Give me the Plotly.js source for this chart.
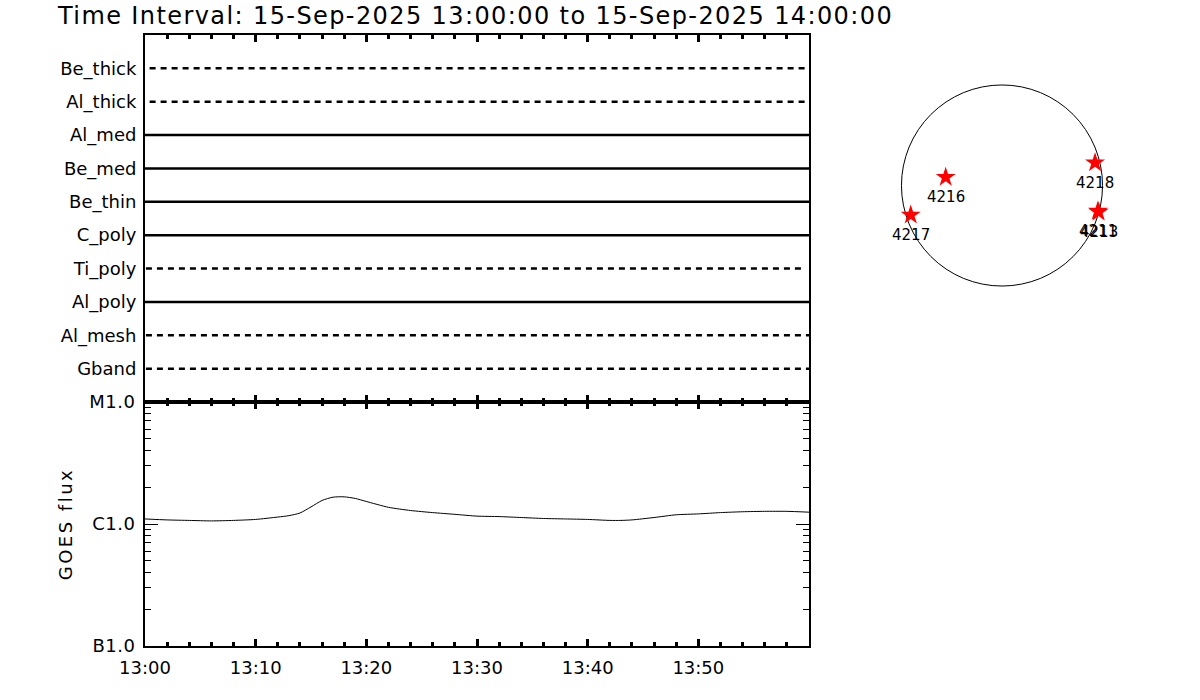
<!DOCTYPE html>
<html>
<head>
<meta charset="utf-8">
<script src="https://cdn.plot.ly/plotly-3.0.1.min.js"></script>
<style>
html,body{margin:0;padding:0;background:#fff;}
#chart{width:1200px;height:700px;}
.gtitle{letter-spacing:1.4px;}
.ytitle{letter-spacing:2.5px;}
.ytick text{letter-spacing:0.5px;}
</style>
</head>
<body>
<div id="chart"></div>
<script>
// ---------------- data ----------------
const day = '2025-09-15';
const titleText = 'Time Interval: 15-Sep-2025 13:00:00 to 15-Sep-2025 14:00:00';

// filters, top to bottom
const filters = ['Be_thick','Al_thick','Al_med','Be_med','Be_thin','C_poly','Ti_poly','Al_poly','Al_mesh','Gband'];
const filterStart = ['13:00:25','13:00:25','13:00:00','13:00:00','13:00:00','13:00:00','13:00:05','13:00:00','13:00:05','13:00:05'];
const filterEnd   = ['14:00:00','14:00:00','14:00:00','14:00:00','14:00:00','14:00:00','13:59:38','14:00:00','14:00:00','14:00:00'];
const filterDashed = [true,true,false,false,false,false,true,false,true,true];

// GOES flux (W/m^2)
const goesTime = ['13:00','13:02','13:04','13:06','13:08','13:10','13:12','13:13','13:14','13:15','13:16','13:17','13:18','13:19','13:20','13:22','13:24','13:26','13:28','13:30','13:32','13:34','13:36','13:38','13:40','13:42','13:43','13:44','13:46','13:48','13:50','13:52','13:54','13:56','13:58','14:00'];
const goesFlux = [1.10e-6,1.08e-6,1.07e-6,1.06e-6,1.07e-6,1.09e-6,1.14e-6,1.17e-6,1.23e-6,1.38e-6,1.56e-6,1.66e-6,1.67e-6,1.62e-6,1.53e-6,1.37e-6,1.29e-6,1.24e-6,1.20e-6,1.16e-6,1.15e-6,1.13e-6,1.11e-6,1.10e-6,1.09e-6,1.07e-6,1.07e-6,1.08e-6,1.13e-6,1.19e-6,1.21e-6,1.24e-6,1.26e-6,1.27e-6,1.27e-6,1.25e-6];

const goesTickVals = [1e-7,1e-6,1e-5];
const goesTickText = ['B1.0','C1.0','M1.0'];
const timeTickVals = ['13:00','13:10','13:20','13:30','13:40','13:50'];

// active regions on the disk (arcsec)
const regionNames = ['4218','4216','4217','4211','4213'];
const regionX = [884,-535,-867,911,918];
const regionY = [217,78,-280,-243,-251];
const solarRadius = 955;

// ---------------- styles ----------------
const FONT = 'DejaVu Sans, sans-serif';
const t = s => day + ' ' + (s.length === 5 ? s + ':00' : s);

const traces = [];
const nF = filters.length;
filters.forEach((f, i) => {
  const yv = nF - i;
  traces.push({
    type: 'scatter', mode: 'lines', xaxis: 'x2', yaxis: 'y2',
    x: [t(filterStart[i]), t(filterEnd[i])], y: [yv, yv],
    line: {color: '#000', width: 2.5, dash: filterDashed[i] ? '6px,5px' : 'solid'},
    hoverinfo: 'skip', name: f
  });
});

traces.push({
  type: 'scatter', mode: 'lines', xaxis: 'x', yaxis: 'y',
  x: goesTime.map(t), y: goesFlux,
  line: {color: '#000', width: 1, shape: 'spline', smoothing: 0.6},
  name: 'GOES'
});

traces.push({
  type: 'scatter', mode: 'markers', xaxis: 'x3', yaxis: 'y3',
  x: regionX, y: regionY,
  marker: {symbol: 'star', size: 15, color: '#ff0000', line: {width: 0}},
  name: 'regions'
});

const minorLog = [];
[1e-7, 1e-6].forEach(d => { for (let k = 2; k <= 9; k++) minorLog.push(k * d); });

const W = 1200, H = 700;
const xDom = [145 / W, 809 / W];
const yBot = [1 - 646 / H, 1 - 402 / H];
const yTop = [1 - 402 / H, 1 - 35 / H];

const timeAxisCommon = {
  type: 'date', domain: xDom,
  range: [t('13:00'), t('14:00')],
  tickmode: 'array', tickvals: timeTickVals.map(t),
  ticks: 'inside', ticklen: 7, tickwidth: 3, tickcolor: '#000',
  minor: {tickmode: 'linear', tick0: t('13:00'), dtick: 120000, ticks: 'inside', ticklen: 4, tickwidth: 3, tickcolor: '#000', showgrid: false},
  showline: true, linewidth: 2, linecolor: '#000', mirror: 'ticks',
  showgrid: false, zeroline: false,
  tickformat: '%H:%M',
  tickfont: {family: FONT, size: 18, color: '#000'}
};

const annotations = regionNames.map((n, i) => ({
  xref: 'x3', yref: 'y3', x: regionX[i], y: regionY[i],
  text: n, showarrow: false, yshift: -20, xshift: 0,
  font: {family: FONT, size: 15, color: '#000'}
}));

const layout = {
  width: W, height: H,
  margin: {l: 0, r: 0, t: 0, b: 0},
  paper_bgcolor: '#fff', plot_bgcolor: '#fff',
  showlegend: false,
  title: {
    text: titleText, x: 58 / W, xanchor: 'left', xref: 'paper',
    y: 1 - 16 / H, yanchor: 'middle', yref: 'paper',
    font: {family: FONT, size: 24, color: '#000'}
  },
  xaxis: Object.assign({}, timeAxisCommon, {anchor: 'y', ticklabelstandoff: 4}),
  xaxis2: Object.assign({}, timeAxisCommon, {anchor: 'y2', matches: 'x', showticklabels: false}),
  yaxis: {
    domain: yBot, anchor: 'x', type: 'log', range: [-7, -5],
    tickmode: 'array', tickvals: goesTickVals, ticktext: goesTickText,
    ticks: 'inside', ticklen: 13, tickwidth: 1, tickcolor: '#000',
    minor: {tickmode: 'array', tickvals: minorLog, ticks: 'inside', ticklen: 6, tickwidth: 1, tickcolor: '#000', showgrid: false},
    showline: true, linewidth: 2, linecolor: '#000', mirror: 'ticks',
    showgrid: false, zeroline: false, ticklabelstandoff: 4,
    tickfont: {family: FONT, size: 18, color: '#000'},
    title: {text: 'GOES flux', standoff: 12, font: {family: FONT, size: 18, color: '#000'}}
  },
  yaxis2: {
    domain: yTop, anchor: 'x2', range: [0, 11],
    tickmode: 'array', tickvals: filters.map((f, i) => nF - i), ticktext: filters,
    ticks: '', showline: true, linewidth: 2, linecolor: '#000', mirror: true,
    showgrid: false, zeroline: false, ticklabelstandoff: 3,
    tickfont: {family: FONT, size: 18, color: '#000'}
  },
  xaxis3: {domain: [880 / W, 1124 / W], anchor: 'y3', range: [-1159, 1159], visible: false},
  yaxis3: {domain: [1 - 307.5 / H, 1 - 63.5 / H], anchor: 'x3', range: [-1159, 1159], visible: false},
  shapes: [{
    type: 'circle', xref: 'x3', yref: 'y3',
    x0: -solarRadius, x1: solarRadius, y0: -solarRadius, y1: solarRadius,
    line: {color: '#000', width: 1}, layer: 'below'
  }],
  annotations: annotations
};

Plotly.newPlot('chart', traces, layout, {staticPlot: true, displayModeBar: false});
</script>
</body>
</html>
